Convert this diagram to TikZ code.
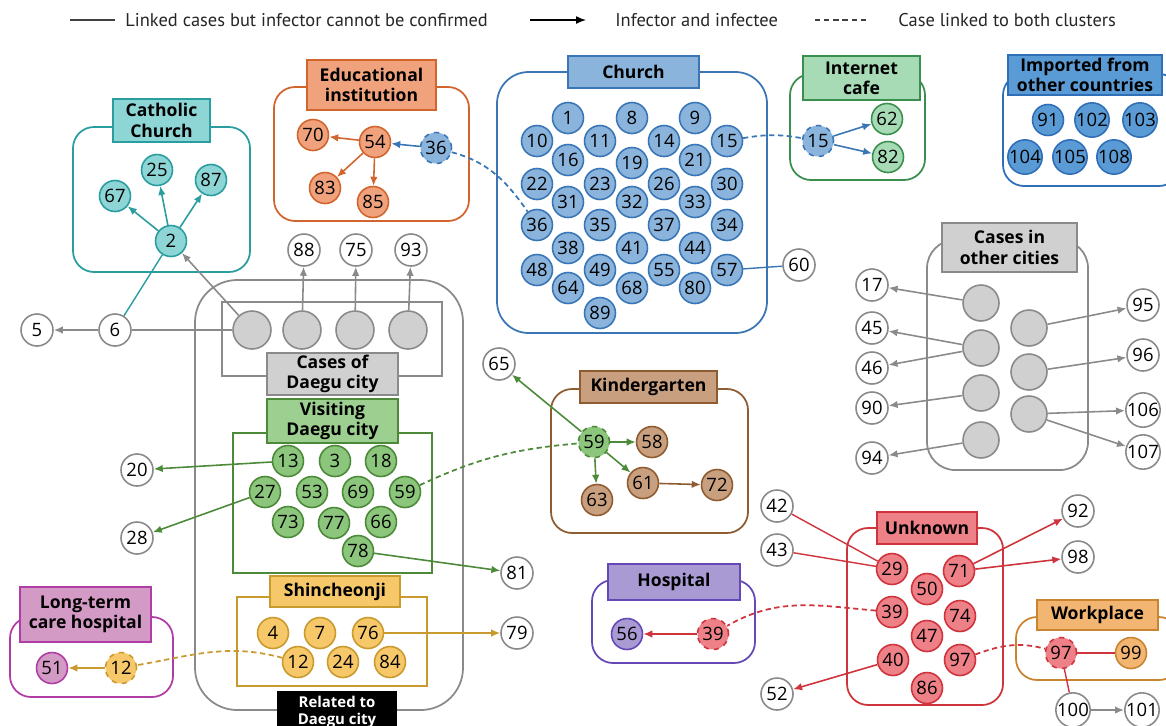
\documentclass[tikz,border=0pt]{standalone}
\usepackage{fontspec}
\setmainfont{Open Sans}
\newfontfamily\legendfont{PT Sans}
\usetikzlibrary{arrows.meta}

\definecolor{tealF}{HTML}{8ED5D6} \definecolor{tealD}{HTML}{2A9D9F}
\definecolor{eduF}{HTML}{F0A27C}  \definecolor{eduD}{HTML}{D2652E}
\definecolor{chF}{HTML}{8AB4DC}   \definecolor{chD}{HTML}{3A76B5}
\definecolor{cafeF}{HTML}{A6DBB5} \definecolor{cafeD}{HTML}{3B8F4E}
\definecolor{impF}{HTML}{5B9BD5}  \definecolor{impD}{HTML}{2F6FB8}
\definecolor{grF}{HTML}{D0D0D0}   \definecolor{grD}{HTML}{8A8A8A}
\definecolor{visF}{HTML}{8CC67C}  \definecolor{visD}{HTML}{4C8A3A}
\definecolor{kinF}{HTML}{C9A07F}  \definecolor{kinD}{HTML}{8E5C30}
\definecolor{shF}{HTML}{F6C86A}   \definecolor{shD}{HTML}{C99A2E}
\definecolor{ltcF}{HTML}{D49AC6}  \definecolor{ltcD}{HTML}{B03CA5}
\definecolor{hosF}{HTML}{A99AD3}  \definecolor{hosD}{HTML}{6547B5}
\definecolor{unF}{HTML}{EE8088}   \definecolor{unD}{HTML}{CF333C}
\definecolor{wpF}{HTML}{F2B572}   \definecolor{wpD}{HTML}{C9842F}

\newcommand\numfont{\fontsize{10.5}{11}\selectfont}
\newcommand\lblfont{\fontsize{10}{11.5}\selectfont\bfseries}

\begin{document}
\begin{tikzpicture}[
  x=0.02cm, y=-0.02cm,
  case/.style={circle, draw, line width=0.9pt, minimum size=6.2mm, inner sep=0pt, font=\numfont},
  ext/.style={case, draw=grD, fill=white, minimum size=6.4mm},
  anon/.style={circle, draw=grD, fill=grF, line width=0.9pt, minimum size=7.6mm},
  lbl/.style={draw, line width=1pt, font=\lblfont, align=center, inner sep=0pt},
  grp/.style={line width=1pt, rounded corners=12pt},
  arr/.style={-{Latex[length=1.8mm, width=1.5mm]}, line width=0.9pt},
  lnk/.style={line width=0.8pt},
  both/.style={line width=1pt, dash pattern=on 3pt off 2pt},
  legend/.style={font=\legendfont\fontsize{10.5}{12}\selectfont, text=black!85, anchor=west, inner sep=0pt}
]
\useasboundingbox (0,0) rectangle (1166,725);
\clip (0,0) rectangle (1166,725);

% legend
\coordinate (ls1) at (70,20);  \coordinate (ls2) at (115,20);
\coordinate (la1) at (530,20); \coordinate (la2) at (586,20);
\coordinate (ld1) at (815,20); \coordinate (ld2) at (866,20);
\draw[black!75, line width=0.7pt] (ls1) -- (ls2);
\draw[-{Latex[length=2mm, width=1.6mm]}, black, line width=0.8pt] (la1) -- (la2);
\draw[black!75, line width=0.7pt, dash pattern=on 3pt off 2.2pt] (ld1) -- (ld2);
\node[legend] (lgsolid) at (125,20) {Linked cases but infector cannot be confirmed};
\node[legend] (lgarrow) at (615,20) {Infector and infectee};
\node[legend] (lgdash) at (898,20) {Case linked to both clusters};

% cluster frames
\draw[grp, tealD] (73,127) rectangle (250,272);
\draw[grp, eduD] (274,87) rectangle (469,221);
\draw[grp, chD, rounded corners=18pt] (497,72) rectangle (767,333);
\draw[grp, cafeD] (790,74) rectangle (925,180);
\draw[grp, impD] (1003,74) rectangle (1180,186);
\draw[grp, grD, rounded corners=16pt] (927,240) rectangle (1088,470);
\draw[grp, grD, rounded corners=24pt] (195,280) rectangle (463,710);
\draw[line width=1pt, grD] (222,302) rectangle (442,376);
\draw[line width=1pt, visD] (233,433) rectangle (432,573);
\draw[grp, kinD] (551,389) rectangle (748,533);
\draw[line width=1pt, shD] (237,597) rectangle (427,686);
\draw[grp, ltcD] (10,617) rectangle (173,697);
\draw[grp, hosD] (592,580) rectangle (755,663);
\draw[grp, unD] (847,528) rectangle (1003,705);
\draw[grp, wpD] (1016,617) rectangle (1180,680);

% cluster labels
\node[lbl, fill=tealF, draw=tealD, minimum width=1.94cm, minimum height=0.86cm] (lcath) at (161.5,120.5) {Catholic\\Church};
\node[lbl, fill=eduF, draw=eduD, minimum width=2.58cm, minimum height=1.0cm] (ledu) at (371.5,85) {Educational\\institution};
\node[lbl, fill=chF, draw=chD, minimum width=2.62cm, minimum height=0.64cm] (lchurch) at (633.5,72) {Church};
\node[lbl, fill=cafeF, draw=cafeD, minimum width=2.34cm, minimum height=0.88cm] (lcafe) at (861.5,78) {Internet\\cafe};
\node[lbl, fill=impF, draw=impD, minimum width=3.08cm, minimum height=0.8cm] (limp) at (1085,75) {Imported from\\other countries};
\node[lbl, fill=grF, draw=grD, minimum width=2.7cm, minimum height=0.98cm] (lother) at (1009.5,247.5) {Cases in\\other cities};
\node[lbl, fill=grF, draw=grD, minimum width=2.62cm, minimum height=0.84cm] (ldaegu) at (332.5,374) {Cases of\\Daegu city};
\node[lbl, fill=visF!85!white, draw=visD, minimum width=2.62cm, minimum height=0.88cm] (lvisit) at (332.5,421) {Visiting\\Daegu city};
\node[lbl, fill=kinF, draw=kinD, minimum width=2.74cm, minimum height=0.64cm] (lkinder) at (648.5,387) {Kindergarten};
\node[lbl, fill=shF, draw=shD, minimum width=2.6cm, minimum height=0.62cm] (lshin) at (335,591.5) {Shincheonji};
\node[lbl, fill=ltcF, draw=ltcD, minimum width=2.62cm, minimum height=1.1cm] (lltc) at (85.5,614.5) {Long-term\\care hospital};
\node[lbl, fill=hosF, draw=hosD, minimum width=2.64cm, minimum height=0.72cm] (lhosp) at (674,582) {Hospital};
\node[lbl, fill=unF, draw=unD, minimum width=2.0cm, minimum height=0.64cm] (lunk) at (927,528) {Unknown};
\node[lbl, fill=wpF, draw=wpD, minimum width=2.42cm, minimum height=0.6cm] (lwork) at (1097.5,615) {Workplace};
\node[lbl, fill=black, draw=black, text=white, font=\fontsize{8.5}{10}\selectfont\bfseries, minimum width=2.36cm, minimum height=0.8cm] (lrel) at (337,712) {Related to\\Daegu city};

% Catholic church
\node[case, fill=tealF, draw=tealD] (cc2) at (171,241) {2};
\node[case, fill=tealF, draw=tealD] (cc67) at (115,196) {67};
\node[case, fill=tealF, draw=tealD] (cc25) at (157,170) {25};
\node[case, fill=tealF, draw=tealD] (cc87) at (211,180) {87};
\draw[arr, tealD] (cc2) -- (cc67);
\draw[arr, tealD] (cc2) -- (cc25);
\draw[arr, tealD] (cc2) -- (cc87);

% educational institution
\node[case, fill=eduF, draw=eduD] (ed54) at (375,142) {54};
\node[case, fill=eduF, draw=eduD] (ed70) at (313,135) {70};
\node[case, fill=eduF, draw=eduD] (ed83) at (325,188) {83};
\node[case, fill=eduF, draw=eduD] (ed85) at (373,202) {85};
\node[case, fill=chF, draw=chD, dashed] (ed36) at (436,148) {36};
\draw[arr, eduD] (ed54) -- (ed70);
\draw[arr, eduD] (ed54) -- (ed83);
\draw[arr, eduD] (ed54) -- (ed85);
\draw[arr, chD] (ed36) -- (ed54);

% church
\foreach \n/\x/\y in {1/568/118, 8/632/118, 9/695/118, 10/537/141, 11/600/141,
    14/664/141, 15/727/141, 16/568/160, 19/632/163, 21/695/160, 22/537/184,
    23/600/184, 26/664/184, 30/727/184, 31/568/202, 32/632/202, 33/695/202,
    36/537/225, 35/600/225, 37/664/225, 34/727/225, 38/568/248, 41/632/248,
    44/695/248, 48/537/270, 49/600/270, 55/664/270, 57/727/270, 64/568/288,
    68/632/288, 80/695/288, 89/600/313}
  \node[case, fill=chF, draw=chD] (ch\n) at (\x,\y) {\n};
\node[ext] (c60) at (799,265) {60};
\draw[lnk, chD] (ch57) -- (c60);
\draw[both, chD] (ed36) to[out=-15, in=125] (ch36);

% internet cafe
\node[case, fill=chF, draw=chD, dashed] (ic15) at (818,141) {15};
\node[case, fill=cafeF, draw=cafeD] (ic62) at (887,119) {62};
\node[case, fill=cafeF, draw=cafeD] (ic82) at (888,157) {82};
\draw[arr, chD] (ic15) -- (ic62);
\draw[arr, chD] (ic15) -- (ic82);
\draw[both, chD] (ch15) to[out=10, in=170] (ic15);

% imported
\foreach \n/\x/\y in {91/1048/120, 102/1092/120, 103/1140/120,
    104/1025/157, 105/1070/157, 108/1114/157}
  \node[case, fill=impF, draw=impD] (im\n) at (\x,\y) {\n};

% cases in other cities
\node[anon, minimum size=7.2mm] (oc1) at (981,303) {};
\node[anon, minimum size=7.2mm] (oc2) at (981,348) {};
\node[anon, minimum size=7.2mm] (oc3) at (981,393) {};
\node[anon, minimum size=7.2mm] (oc4) at (981,440) {};
\node[anon, minimum size=7.2mm] (oc5) at (1029,328) {};
\node[anon, minimum size=7.2mm] (oc6) at (1029,372) {};
\node[anon, minimum size=7.2mm] (oc7) at (1029,414) {};
\node[ext] (c17) at (872,285) {17};
\node[ext] (c45) at (872,328) {45};
\node[ext] (c46) at (872,368) {46};
\node[ext] (c90) at (872,408) {90};
\node[ext] (c94) at (872,458) {94};
\node[ext] (c95) at (1143,305) {95};
\node[ext] (c96) at (1143,355) {96};
\node[ext] (c106) at (1143,410) {106};
\node[ext] (c107) at (1143,452) {107};
\draw[arr, grD] (oc1) -- (c17);
\draw[arr, grD] (oc2) -- (c45);
\draw[arr, grD] (oc2) -- (c46);
\draw[arr, grD] (oc3) -- (c90);
\draw[arr, grD] (oc4) -- (c94);
\draw[arr, grD] (oc5) -- (c95);
\draw[arr, grD] (oc6) -- (c96);
\draw[arr, grD] (oc7) -- (c106);
\draw[arr, grD] (oc7) -- (c107);

% cases of Daegu city
\node[anon] (dg1) at (252,330) {};
\node[anon] (dg2) at (302,330) {};
\node[anon] (dg3) at (355,330) {};
\node[anon] (dg4) at (408,330) {};
\node[ext] (c88) at (304,250) {88};
\node[ext] (c75) at (356,250) {75};
\node[ext] (c93) at (411,250) {93};
\node[ext] (c6) at (115,330) {6};
\node[ext] (c5) at (37,330) {5};
\draw[arr, grD] (dg2) -- (c88);
\draw[arr, grD] (dg3) -- (c75);
\draw[arr, grD] (dg4) -- (c93);
\draw[arr, grD] (dg1) -- (cc2);
\draw[lnk, grD] (dg1) -- (c6);
\draw[arr, grD] (c6) -- (c5);
\draw[lnk, tealD] (c6) -- (cc2);

% visiting Daegu city
\foreach \n/\x/\y in {13/288/461, 3/335/461, 18/381/461, 27/265/492, 53/312/492,
    69/358/492, 59/405/492, 73/288/522, 77/334/523, 66/381/522, 78/358/551}
  \node[case, fill=visF, draw=visD] (vd\n) at (\x,\y) {\n};
\node[ext] (c20) at (137,470) {20};
\node[ext] (c28) at (137,538) {28};
\node[ext] (c81) at (517,573) {81};
\draw[arr, visD] (vd13) -- (c20);
\draw[arr, visD] (vd27) -- (c28);
\draw[arr, visD] (vd78) -- (c81);

% kindergarten
\node[case, fill=visF, draw=visD, dashed] (kg59) at (594,442) {59};
\node[case, fill=kinF, draw=kinD] (kg58) at (652,442) {58};
\node[case, fill=kinF, draw=kinD] (kg63) at (597,500) {63};
\node[case, fill=kinF, draw=kinD] (kg61) at (643,483) {61};
\node[case, fill=kinF, draw=kinD] (kg72) at (717,485) {72};
\node[ext] (c65) at (499,364) {65};
\draw[arr, visD] (kg59) -- (c65);
\draw[arr, visD] (kg59) -- (kg58);
\draw[arr, visD] (kg59) -- (kg63);
\draw[arr, visD] (kg59) -- (kg61);
\draw[arr, kinD] (kg61) -- (kg72);
\draw[both, visD] (vd59) to[out=25, in=185] (kg59);

% Shincheonji
\foreach \n/\x/\y in {4/273/633, 7/320/633, 76/368/633, 12/298/662, 24/343/662, 84/390/662}
  \node[case, fill=shF, draw=shD] (sh\n) at (\x,\y) {\n};
\node[ext] (c79) at (517,633) {79};
\draw[arr, shD] (sh76) -- (c79);

% long-term care hospital
\node[case, fill=ltcF, draw=ltcD] (lt51) at (52,668) {51};
\node[case, fill=shF, draw=shD, dashed] (lt12) at (121,668) {12};
\draw[arr, shD] (lt12) -- (lt51);
\draw[both, shD] (sh12) to[out=165, in=10] (lt12);

% hospital
\node[case, fill=hosF, draw=hosD] (hp56) at (627,634) {56};
\node[case, fill=unF, draw=unD, dashed] (hp39) at (713,634) {39};
\draw[arr, unD] (hp39) -- (hp56);

% unknown
\foreach \n/\x/\y in {29/892/569, 71/959/571, 50/927/589, 39/892/612, 74/960/616,
    47/927/636, 40/893/660, 97/960/660, 86/927/688}
  \node[case, fill=unF, draw=unD] (un\n) at (\x,\y) {\n};
\node[ext] (c42) at (777,506) {42};
\node[ext] (c43) at (777,550) {43};
\node[ext] (c52) at (777,694) {52};
\node[ext] (c92) at (1078,511) {92};
\node[ext] (c98) at (1078,557) {98};
\draw[lnk, unD] (c42) -- (un29);
\draw[lnk, unD] (c43) -- (un29);
\draw[arr, unD] (un40) -- (c52);
\draw[arr, unD] (un71) -- (c92);
\draw[arr, unD] (un71) -- (c98);
\draw[both, unD] (un39) to[out=175, in=30] (hp39);

% workplace
\node[case, fill=unF, draw=unD, dashed] (wp97) at (1061,653) {97};
\node[case, fill=wpF, draw=wpD] (wp99) at (1131,653) {99};
\node[ext] (c100) at (1073,710) {100};
\node[ext] (c101) at (1142,710) {101};
\draw[lnk, unD] (wp97) -- (wp99);
\draw[lnk, unD] (wp97) -- (c100);
\draw[arr, grD] (c100) -- (c101);
\draw[both, unD] (un97) to[out=20, in=165] (wp97);
\end{tikzpicture}
\end{document}
